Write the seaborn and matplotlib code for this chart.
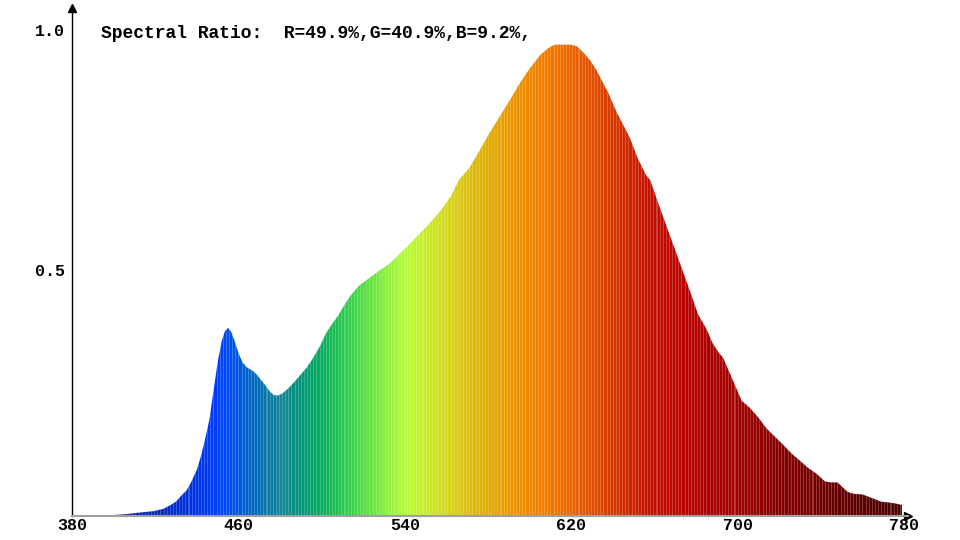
import numpy as np
import matplotlib
matplotlib.use("Agg")
import matplotlib.pyplot as plt
import seaborn as sns

# spectrum (wavelength in nm, relative intensity)
wavelength = [380, 390, 400, 406, 412, 419, 424, 427, 430, 432, 435, 437, 440, 442, 444,
              446, 448, 450, 452, 453.5, 455, 456.5, 458, 460, 462, 464, 467, 469, 471,
              473, 475, 477, 479, 481, 484, 487, 490, 493, 496, 499, 502, 505, 508, 511,
              514, 518, 523, 528, 533, 538, 542, 547, 552, 557, 562, 566, 571, 576, 581,
              586, 591, 595, 600, 605, 609, 612, 616, 620, 623, 626, 629, 632, 635, 638,
              642, 645, 648, 652, 656, 658, 662, 667, 672, 677, 681, 685, 688, 691, 693,
              696, 699, 702, 706, 710, 714, 718, 722, 726, 730, 734, 738, 742, 745, 748,
              750, 753, 756, 760, 763, 766, 769, 773, 776, 779]
intensity = [0.0, 0.0, 0.002, 0.004, 0.007, 0.010, 0.015, 0.022, 0.030, 0.040, 0.053, 0.068,
             0.096, 0.125, 0.160, 0.200, 0.260, 0.320, 0.365, 0.385, 0.392, 0.384, 0.367,
             0.340, 0.320, 0.310, 0.302, 0.294, 0.283, 0.272, 0.260, 0.252, 0.251, 0.255,
             0.266, 0.280, 0.295, 0.310, 0.330, 0.352, 0.380, 0.400, 0.418, 0.440, 0.460,
             0.480, 0.496, 0.512, 0.527, 0.548, 0.565, 0.588, 0.610, 0.635, 0.665, 0.700,
             0.725, 0.762, 0.800, 0.835, 0.870, 0.900, 0.932, 0.960, 0.975, 0.982, 0.982,
             0.982, 0.978, 0.965, 0.950, 0.930, 0.905, 0.880, 0.840, 0.815, 0.790, 0.745,
             0.710, 0.700, 0.650, 0.590, 0.530, 0.470, 0.420, 0.390, 0.360, 0.340, 0.330,
             0.300, 0.270, 0.240, 0.225, 0.205, 0.182, 0.165, 0.148, 0.130, 0.115, 0.100,
             0.088, 0.072, 0.070, 0.070, 0.062, 0.050, 0.046, 0.045, 0.040, 0.035, 0.030,
             0.028, 0.026, 0.023]

x_ticks = [380, 460, 540, 620, 700, 780]
y_ticks = [0.5, 1.0]
y_tick_labels = ["0.5", "1.0"]
ratio_r, ratio_g, ratio_b = 49.9, 40.9, 9.2

# colour of the light at each wavelength (anchor colours)
anchor_nm = [380, 400, 420, 440, 450, 460, 470, 480, 490, 500, 510, 520, 530, 540, 550,
             560, 570, 580, 590, 600, 610, 620, 630, 640, 650, 660, 680, 700, 720, 740,
             760, 780]
anchor_rgb = [(30, 30, 120), (30, 30, 150), (0, 40, 190), (0, 50, 230), (0, 64, 255),
              (0, 90, 220), (0, 110, 180), (20, 135, 150), (0, 150, 120), (10, 175, 90),
              (40, 200, 80), (85, 220, 70), (135, 238, 60), (180, 255, 50), (200, 235, 40),
              (212, 215, 30), (218, 192, 15), (225, 172, 0), (235, 152, 0), (240, 135, 0),
              (245, 120, 0), (235, 100, 0), (225, 78, 0), (215, 55, 0), (205, 32, 0),
              (195, 12, 0), (180, 0, 0), (160, 0, 0), (135, 0, 0), (112, 0, 0),
              (90, 0, 0), (72, 0, 0)]

sns.set_theme(style="white")
plt.rcParams["font.family"] = ["Liberation Mono", "DejaVu Sans Mono"]

fig = plt.figure(figsize=(9.6, 5.4), dpi=100)
ax = fig.add_axes([72 / 960, 1 - 516 / 540, (908 - 72) / 960, (516 - 8) / 540])

# striped colour band, clipped to the area under the curve
cols = np.arange(380, 780, 0.5)
rgb = np.array(anchor_rgb, dtype=float) / 255
band = np.stack([np.interp(cols, anchor_nm, rgb[:, k]) for k in range(3)], axis=1)
light = (np.arange(len(cols)) % 3) == 1
band[light] = band[light] * 0.78 + 0.22
img = ax.imshow(band[np.newaxis, :, :], extent=[380, 780, 0, 1.2], aspect="auto",
                interpolation="nearest", origin="lower", zorder=2)
area = ax.fill_between(wavelength, 0, intensity, facecolor="none", edgecolor="none")
img.set_clip_path(area.get_paths()[0], transform=ax.transData)

ax.set_xlim(380, 380 + (908 - 72) / 2.08)
ax.set_ylim(0, 508 / 480)

ax.set_xticks(x_ticks)
ax.set_xticklabels([str(t) for t in x_ticks], fontsize=12, fontweight="bold")
ax.set_yticks(y_ticks)
ax.set_yticklabels(y_tick_labels, fontsize=12, fontweight="bold")
for lab in ax.get_yticklabels():
    lab.set_va("baseline")
ax.tick_params(axis="x", length=0, pad=1.5, colors="black")
ax.tick_params(axis="y", length=5, width=0.8, pad=0, direction="out", colors="black")

for side in ["top", "right"]:
    ax.spines[side].set_visible(False)
ax.spines["left"].set_color("black")
ax.spines["left"].set_linewidth(1)
ax.spines["bottom"].set_color("#a0a0a0")
ax.spines["bottom"].set_linewidth(1.5)

# arrow heads on the axes
ax.plot(0, 1, marker="^", ms=6, color="black", transform=ax.transAxes, clip_on=False)
ax.plot(1, 0, marker=">", ms=6, color="black", transform=ax.transAxes, clip_on=False)

fig.text(101 / 960, 1 - 33 / 540,
         f"Spectral Ratio:  R={ratio_r}%,G={ratio_g}%,B={ratio_b}%,",
         fontsize=13, fontweight="bold", ha="left", va="center", color="black")

fig.savefig("out.png", dpi=100, facecolor="white")
